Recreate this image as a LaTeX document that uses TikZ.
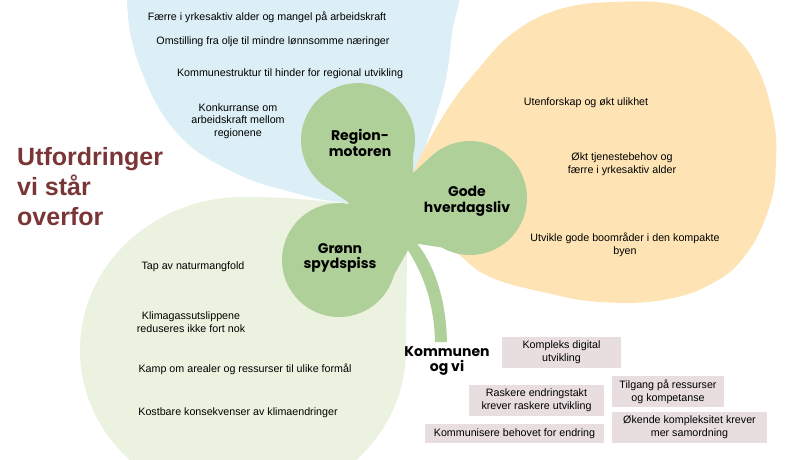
\documentclass[tikz,border=0pt]{standalone}
\usepackage{fontspec}
\setmainfont{Liberation Sans}
\newfontfamily\headfont{Poppins}
\usetikzlibrary{calc}
\definecolor{bluepetal}{HTML}{DCEEF6}
\definecolor{orangepetal}{HTML}{FEE4B4}
\definecolor{greenpetal}{HTML}{ECF2E0}
\definecolor{clover}{HTML}{B0D09A}
\definecolor{boxfill}{HTML}{E8DEDF}
\definecolor{titlered}{HTML}{7A3636}
\begin{document}
\begin{tikzpicture}[x=1pt,y=-1pt,
  txt/.style={inner sep=0pt, align=center, font=\fontsize{10.7}{12.5}\selectfont},
  head/.style={inner sep=0pt, align=center, font=\headfont\bfseries\fontsize{14}{15.5}\selectfont},
  chbox/.style={fill=boxfill, inner sep=0pt, align=center, font=\fontsize{10.7}{13}\selectfont}]
\useasboundingbox (0,0) rectangle (800,460);
\begin{scope}
\clip (0,0) rectangle (800,460);
% light green petal
\fill[greenpetal] (406,214) .. controls (330,200) and (290,197) .. (243,197)
  arc[start angle=-90, end angle=-360, x radius=163, y radius=153]
  .. controls (406,300) and (408,250) .. (406,214) -- cycle;
% blue petal
\fill[bluepetal] plot[smooth, tension=0.7] coordinates {(405,207) (345,203) (295,193) (233,172) (177,133) (140,67) (127,0) (135,-60) (200,-110) (300,-130) (410,-100) (458,-30) (452,33) (445,83) (430,133) (415,175) (405,207)} -- cycle;
% orange petal
\fill[orangepetal] plot[smooth, tension=0.7] coordinates {(412,200) (413,173) (447,110) (480,67) (513,33) (557,10) (613,2) (680,6) (730,33) (757,67) (773,117) (776,160) (770,205) (747,253) (713,283) (663,300) (600,302) (547,293) (490,277) (457,253) (430,230) (412,200)} -- cycle;
\end{scope}
% stem
\fill[clover] (398,236) .. controls (418,262) and (434,295) .. (435,342) -- (447,342) .. controls (446,292) and (430,255) .. (410,236) -- cycle;
% clover
\fill[clover] (413,173) -- (413.1,154.8) arc[start angle=15, end angle=-240, radius=57]
  -- (348,202) -- (348.9,203.9) arc[start angle=-80, end angle=-345, radius=57]
  -- (412,243) -- (441.5,247.4) arc[start angle=120, end angle=-130, radius=57]
  -- cycle;
% title
\node[inner sep=0pt, anchor=north west, align=left, text=titlered,
  font=\bfseries\fontsize{25}{30}\selectfont] (title) at (17,147) {Utfordringer\\vi står\\overfor};
% blue texts
\node[txt] (b1) at (267,17) {Færre i yrkesaktiv alder og mangel på arbeidskraft};
\node[txt] (b2) at (273,42) {Omstilling fra olje til mindre lønnsomme næringer};
\node[txt] (b3) at (290,74) {Kommunestruktur til hinder for regional utvikling};
\node[txt] (b4) at (238,121) {Konkurranse om\\arbeidskraft mellom\\regionene};
% orange texts
\node[txt] (o1) at (586,103) {Utenforskap og økt ulikhet};
\node[txt] (o2) at (622,164) {Økt tjenestebehov og\\færre i yrkesaktiv alder};
\node[txt] (o3) at (625,245) {Utvikle gode boområder i den kompakte\\byen};
% green texts
\node[txt] (g1) at (193,267) {Tap av naturmangfold};
\node[txt] (g2) at (191,322) {Klimagassutslippene\\reduseres ikke fort nok};
\node[txt] (g3) at (245,369) {Kamp om arealer og ressurser til ulike formål};
\node[txt] (g4) at (238,413) {Kostbare konsekvenser av klimaendringer};
% clover labels
\node[head] (region) at (360,143) {Region-\\motoren};
\node[head] (gode) at (467,201) {Gode\\hverdagsliv};
\node[head] (gronn) at (340,258) {Grønn\\spydspiss};
\node[head] (kommune) at (447,361) {Kommunen\\og vi};
% boxes
\node[chbox, minimum width=119pt, minimum height=31pt] (k1) at (561.5,352.5) {Kompleks digital\\utvikling};
\node[chbox, minimum width=135pt, minimum height=31pt] (k2) at (536.5,400.5) {Raskere endringstakt\\krever raskere utvikling};
\node[chbox, minimum width=179pt, minimum height=19pt] (k3) at (514.5,433.5) {Kommunisere behovet for endring};
\node[chbox, minimum width=112pt, minimum height=31pt] (k4) at (668,391.5) {Tilgang på ressurser\\og kompetanse};
\node[chbox, minimum width=155pt, minimum height=31pt] (k5) at (689.5,427.5) {Økende kompleksitet krever\\mer samordning};
\end{tikzpicture}
\end{document}
